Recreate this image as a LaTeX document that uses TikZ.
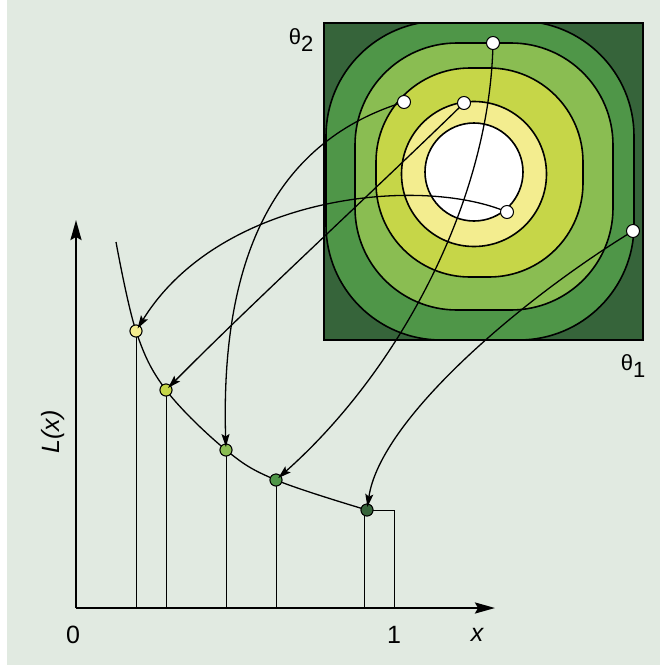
\documentclass[tikz,border=0pt]{standalone}
\usepackage{fontspec}
\setmainfont{Liberation Sans}
\usetikzlibrary{arrows.meta}
\definecolor{bg}{HTML}{E1EAE1}
\definecolor{cdark}{HTML}{36643A}
\definecolor{cmed}{HTML}{4F9648}
\definecolor{clight}{HTML}{8ABD52}
\definecolor{cyg}{HTML}{C6D648}
\definecolor{cpale}{HTML}{F3ED8F}
\begin{document}
\begin{tikzpicture}[x=1pt,y=-1pt,
  contour/.style={draw=black,line width=1.6pt},
  wdot/.style={circle,draw=black,fill=white,line width=1pt,minimum size=13pt,inner sep=0pt},
  cdot/.style={circle,draw=black,line width=0.9pt,minimum size=12pt,inner sep=0pt},
  link/.style={line width=1.3pt,-{Stealth[length=13pt,width=8pt,inset=2.5pt]},shorten >=3pt},
  guide/.style={line width=1pt},
  axisline/.style={line width=2.2pt,-{Stealth[length=20pt,width=11pt,inset=3pt]}},
  lbl/.style={font=\fontsize{25}{25}\selectfont,inner sep=0pt},
  tlbl/.style={font=\fontsize{22}{22}\selectfont,inner sep=0pt}]
\useasboundingbox (0,0) rectangle (660,665);
\fill[white] (0,0) rectangle (660,665);
\fill[bg] (7,0) rectangle (660,665);
% contour map
\begin{scope}
\clip (324,23) rectangle (643,340);
\fill[cdark] (324,23) rectangle (643,340);
\filldraw[contour,fill=cmed,rounded corners=115pt] (326,21) rectangle (634,340);
\filldraw[contour,fill=clight,rounded corners=102pt] (355,43) rectangle (613,310);
\filldraw[contour,fill=cyg,rounded corners=94pt] (376,68) rectangle (583,277);
\filldraw[contour,fill=cpale] (474,174) circle[radius=72.5];
\filldraw[contour,fill=white] (474,172) circle[radius=49];
\end{scope}
\draw[line width=2.6pt] (324,23) rectangle (643,340);
\node[tlbl] (t2) at (301,40) {θ\raisebox{-0.35em}{2}};
\node[tlbl] (t1) at (633,366) {θ\raisebox{-0.35em}{1}};
% sample points in parameter space
\coordinate (A) at (493,43);
\coordinate (B) at (404,102);
\coordinate (C) at (464,103);
\coordinate (D) at (507,212);
\coordinate (E) at (633,231);
% axes
\coordinate (o) at (76,608);
\coordinate (ytip) at (76,220);
\coordinate (xtip) at (495,608);
\coordinate (q) at (394,608);
\coordinate (c0) at (116,242);
\coordinate (p5f) at (364,510);
% curve points (positions)
\node[cdot,fill=cpale] (p1) at (136,331) {};
\node[cdot,fill=cyg] (p2) at (166,390) {};
\node[cdot,fill=clight] (p3) at (226,450) {};
\node[cdot,fill=cmed] (p4) at (276,480) {};
\node[cdot,fill=cdark] (p5) at (367,510) {};
% curve and guides
\draw[line width=1.3pt] plot[smooth,tension=0.6] coordinates {(c0) (p1.center) (p2.center) (p3.center) (p4.center) (p5.center)};
\draw[guide] (p1.center) -- (p1.center |- o);
\draw[guide] (p2.center) -- (p2.center |- o);
\draw[guide] (p3.center) -- (p3.center |- o);
\draw[guide] (p4.center) -- (p4.center |- o);
\draw[guide] (p5f) -- (p5f |- o);
\draw[guide] (p5.center) -| (q);
\draw[axisline] (o) -- (ytip);
\draw[axisline] (o) -- (xtip);
% redraw points over curve
\node[cdot,fill=cpale] at (p1) {};
\node[cdot,fill=cyg] at (p2) {};
\node[cdot,fill=clight] at (p3) {};
\node[cdot,fill=cmed] at (p4) {};
\node[cdot,fill=cdark] at (p5) {};
% links
\draw[link] (D) .. controls (420,175) and (220,195) .. (p1.center);
\draw[link] (C) .. controls (380,185) and (250,305) .. (p2.center);
\draw[link] (B) .. controls (280,140) and (220,250) .. (p3.center);
\draw[link] (A) .. controls (490,200) and (400,370) .. (p4.center);
\draw[link] (E) .. controls (520,300) and (380,420) .. (p5.center);
% white dots
\node[wdot] (wa) at (A) {};
\node[wdot] (wb) at (B) {};
\node[wdot] (wc) at (C) {};
\node[wdot] (wd) at (D) {};
\node[wdot] (we) at (E) {};
% labels
\node[lbl] (l0) at (73,635) {0};
\node[lbl] (l1) at (394,635) {1};
\node[lbl,font=\fontsize{25}{25}\selectfont\itshape] (lx) at (477,635) {x};
\node[lbl,font=\fontsize{25}{25}\selectfont\itshape,rotate=90] (ly) at (53,432) {L(x)};
\end{tikzpicture}
\end{document}
